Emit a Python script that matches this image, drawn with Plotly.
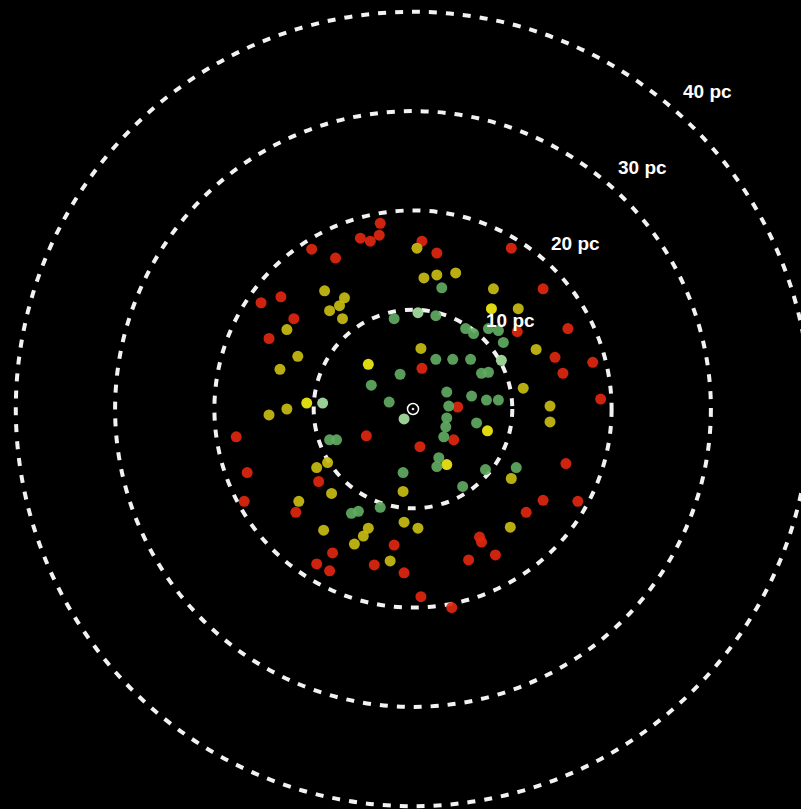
import plotly.graph_objects as go

# Star positions in parsecs (x, y) relative to the Sun
red_x = [-3.3, -3.4, -5.3, -4.3, -10.2, -7.8, -13.3, -15.3, -12.0, -14.5, 0.9, 2.4, 9.9, 13.1, 10.5, 15.6,
         0.9, 14.3, 18.1, 15.1, 18.9, 4.5, -4.7, -17.8, 0.7, -16.7, -9.5, -17.0, -11.8, -8.1, -1.9, -9.7,
         -8.4, -3.9, -0.9, 4.1, 15.4, 13.1, 16.6, 11.4, 6.7, 6.9, 8.3, 5.6, 0.8, 3.9]
red_y = [18.7, 17.5, 17.2, 16.9, 16.1, 15.2, 11.3, 10.7, 9.1, 7.1, 16.9, 15.7, 16.2, 12.1, 7.8, 8.1,
         4.1, 5.2, 4.7, 3.6, 1.0, 0.2, -2.7, -2.8, -3.8, -6.4, -7.3, -9.3, -10.4, -14.5, -13.7, -15.6,
         -16.3, -15.7, -16.5, -3.1, -5.5, -9.2, -9.3, -10.4, -12.9, -13.4, -14.7, -15.2, -18.9, -20.0]

yellow_x = [0.4, -8.9, -6.9, -7.4, -8.4, -7.1, -12.7, -11.6, -13.4, -12.7, -14.5, 1.1, 2.4, 4.3, 8.1,
            10.6, 0.8, 12.4, 11.1, 13.8, 13.8, 9.9, 9.8, 0.5, -9.7, -8.6, -8.2, -1.0, -11.5, -9.0,
            -4.5, -5.0, -5.9, -0.9, -2.3]
yellow_y = [16.2, 11.9, 11.2, 10.4, 9.9, 9.1, 8.0, 5.3, 4.0, 0.0, -0.6, 13.2, 13.5, 13.7, 12.1,
            10.1, 6.1, 6.0, 2.1, 0.3, -1.3, -7.0, -11.9, -12.0, -5.9, -5.4, -8.5, -8.3, -9.3, -12.2,
            -12.0, -12.8, -13.6, -11.4, -15.3]

bright_yellow_x = [-4.5, 7.9, 7.5, 3.4, -10.7]
bright_yellow_y = [4.5, 10.1, -2.2, -5.6, 0.6]

green_x = [-1.3, -4.2, -2.4, -1.9, 2.9, 2.3, 5.3, 6.1, 7.6, 8.6, 9.1, 2.3, 4.0, 5.8, 6.9, 7.6, 3.4,
           5.9, 7.4, 8.6, 3.6, -8.4, -7.7, -1.0, -6.2, -5.5, -3.3, 3.4, 3.3, 3.1, 6.4, 2.6, 2.4, 7.3,
           10.4, 5.0]
green_y = [3.5, 2.4, 0.7, 9.1, 12.2, 9.4, 8.1, 7.6, 8.1, 7.9, 6.7, 5.0, 5.0, 5.0, 3.6, 3.7, 1.7,
           1.3, 0.9, 0.9, 0.3, -3.1, -3.1, -6.4, -10.5, -10.3, -9.9, -0.9, -1.8, -2.8, -1.4, -4.9, -5.8, -6.1,
           -5.9, -7.8]

light_green_x = [0.5, -9.1, 8.9, -0.9]
light_green_y = [9.7, 0.6, 4.9, -1.0]

ring_radii = [10, 20, 30, 40]
ring_labels = ["10 pc", "20 pc", "30 pc", "40 pc"]
label_x = [9.8, 16.4, 23.1, 29.7]
label_y = [8.9, 16.7, 24.3, 32.0]

S = 9.93  # px per pc
W, H = 801, 809
CX, CY = 413, 409

fig = go.Figure()

def add_group(xs, ys, color, name):
    fig.add_trace(go.Scatter(x=xs, y=ys, mode="markers", name=name,
                             marker=dict(size=11, color=color, opacity=0.92, line=dict(width=0)),
                             showlegend=False, hoverinfo="skip"))

add_group(red_x, red_y, "#e0260f", "red")
add_group(yellow_x, yellow_y, "#c9bd12", "yellow")
add_group(bright_yellow_x, bright_yellow_y, "#f2ec14", "bright yellow")
add_group(green_x, green_y, "#5faa62", "green")
add_group(light_green_x, light_green_y, "#a6e0a2", "light green")

# Sun
fig.add_trace(go.Scatter(x=[0], y=[0], mode="markers", showlegend=False, hoverinfo="skip",
                         marker=dict(symbol="circle-open-dot", size=11, color="white",
                                     line=dict(color="white", width=1.5))))

for r in ring_radii:
    fig.add_shape(type="circle", xref="x", yref="y", x0=-r, x1=r, y0=-r, y1=r,
                  line=dict(color="#f2f2f2", width=4, dash="8px,9px"), layer="below")

for t, lx, ly in zip(ring_labels, label_x, label_y):
    fig.add_annotation(x=lx, y=ly, text="<b>" + t + "</b>", showarrow=False,
                       font=dict(family="Liberation Sans", size=19, color="white"),
                       xanchor="center", yanchor="middle")

fig.update_layout(
    width=W, height=H,
    margin=dict(l=0, r=0, t=0, b=0),
    paper_bgcolor="black", plot_bgcolor="black",
    xaxis=dict(range=[-CX / S, (W - CX) / S], visible=False, showgrid=False, zeroline=False),
    yaxis=dict(range=[-(H - CY) / S, CY / S], visible=False, showgrid=False, zeroline=False),
)

fig.write_html("out.html", config={"displayModeBar": False},
               post_script="document.body.style.margin='0';document.body.style.background='black';")
